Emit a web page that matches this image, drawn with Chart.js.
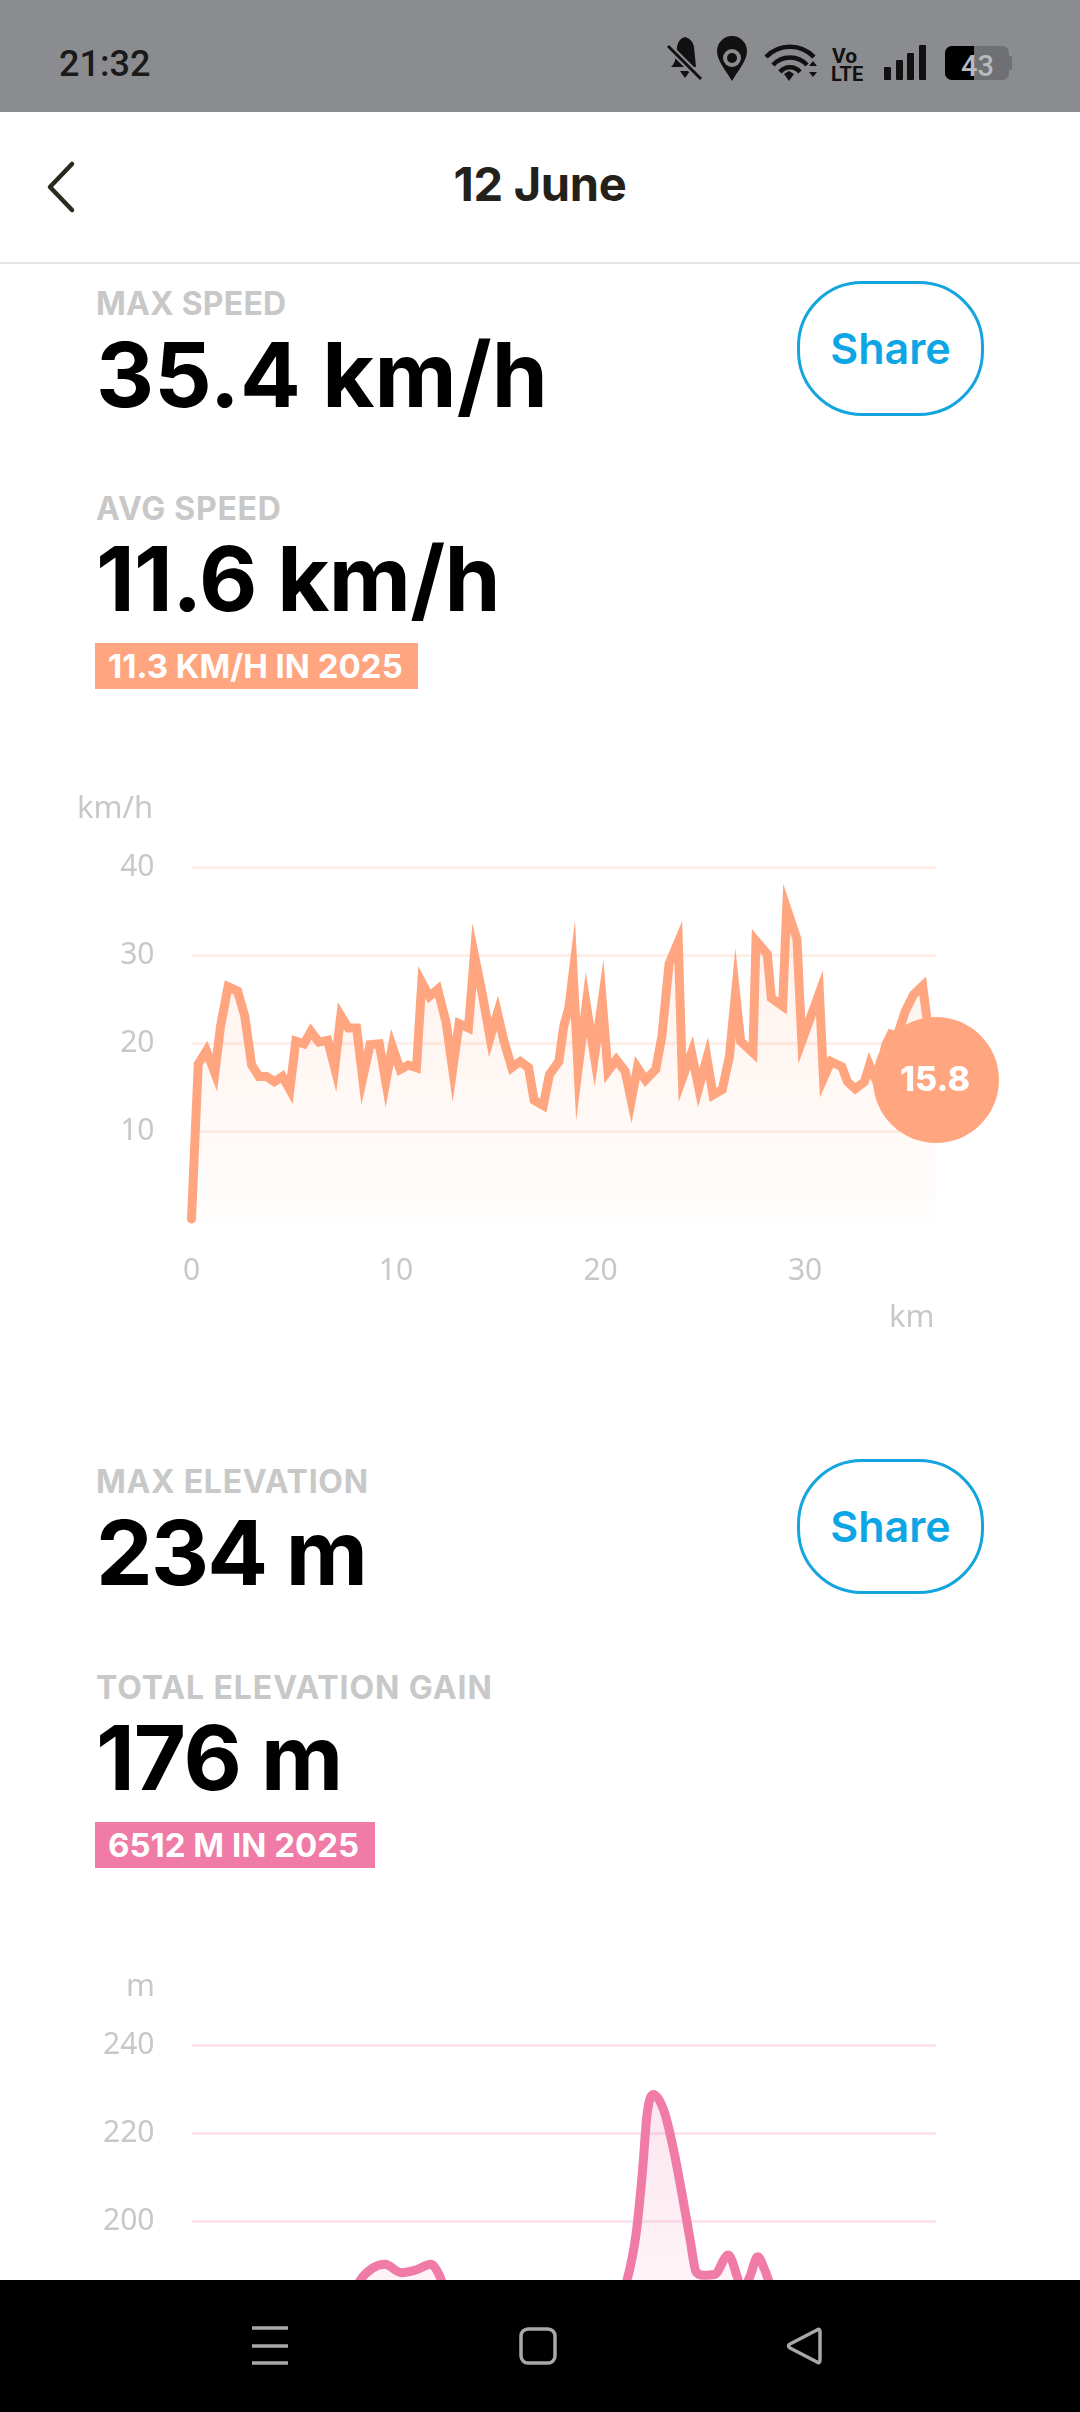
<!DOCTYPE html>
<html lang="en">
<head>
<meta charset="utf-8">
<title>12 June</title>
<script src="https://cdn.jsdelivr.net/npm/chart.js@4/dist/chart.umd.min.js"></script>
<style>
  html, body { margin: 0; padding: 0; background: #fff; }
  body { position: relative; width: 1080px; height: 2412px; overflow: hidden; font-family: Inter, sans-serif; }
  .abs { position: absolute; white-space: nowrap; line-height: 1; }
  .status { position: absolute; left: 0; top: 0; width: 1080px; height: 112px; background: #8b8c90; }
  .divider { position: absolute; left: 0; top: 262px; width: 1080px; height: 2px; background: #e4e4e4; }
  .title { left: 0; width: 1080px; top: 160px; text-align: center; font-size: 47px; font-weight: 700; color: #23211a; letter-spacing: -0.3px; }
  .label { left: 96px; font-size: 32px; font-weight: 700; color: #c8c8c8; }
  .big { left: 96px; font-size: 90px; font-weight: 700; color: #000; }
  .share { position: absolute; left: 797px; width: 181px; height: 129px; border: 3px solid #14a5de; border-radius: 65px; text-align: center; line-height: 129px; font-size: 43px; font-weight: 600; color: #0ea5e4; }
  .badge { position: absolute; left: 95px; height: 46px; line-height: 46px; color: #fff; font-size: 33px; font-weight: 700; padding-left: 13px; box-sizing: border-box; white-space: nowrap; }
  .unit { font-family: "Noto Sans", sans-serif; font-size: 31px; color: #c8c8c8; }
  canvas { position: absolute; left: 0; display: block; }
  .nav { position: absolute; left: 0; top: 2280px; width: 1080px; height: 132px; background: #000; }
</style>
</head>
<body>
  <canvas id="speedChart" width="1080" height="500" style="top:800px"></canvas>
  <canvas id="elevationChart" width="1080" height="510" style="top:1960px"></canvas>

  <div class="status"></div>
  <div class="abs" style="left:59px;top:43px;font:500 36px Roboto,sans-serif;color:#1a1a1a">21:32</div>
  <svg class="abs" style="left:0;top:0" width="1080" height="240" viewBox="0 0 1080 240">
    <!-- bell off -->
    <path d="M671 67c5-4 5-12 6-20 1-6 4-9 8-10 4 1 8 4 9 10l2 20z" fill="#111"/>
    <path d="M680 71h10l-5 7z" fill="#111"/>
    <line x1="668" y1="46" x2="701" y2="79" stroke="#8b8c90" stroke-width="7"/>
    <line x1="668" y1="46" x2="701" y2="79" stroke="#111" stroke-width="3"/>
    <!-- pin -->
    <path d="M732 81c-8-13-15-21-15-30a15 15 0 0 1 30 0c0 9-7 17-15 30z" fill="#111"/>
    <circle cx="732" cy="58" r="9" fill="#8b8c90"/>
    <circle cx="732" cy="58" r="5" fill="#111"/>
    <!-- wifi -->
    <g fill="none" stroke="#111" stroke-width="4.5">
      <path d="M766 57a33 33 0 0 1 48 0"/>
      <path d="M773 65a23 23 0 0 1 34 0"/>
      <path d="M780 72a13 13 0 0 1 20 0"/>
    </g>
    <path d="M784 74l5-3 5 3-5 7z" fill="#111"/>
    <path d="M809 66l4-5 4 5zM809 72h8l-4 5z" fill="#111"/>
    <!-- signal -->
    <rect x="884" y="67" width="7" height="13" rx="1" fill="#111"/>
    <rect x="896" y="60" width="7" height="20" rx="1" fill="#111"/>
    <rect x="907" y="53" width="7" height="27" rx="1" fill="#111"/>
    <rect x="919" y="45" width="7" height="35" rx="1" fill="#111"/>
    <!-- battery -->
    <rect x="945" y="46" width="64" height="34" rx="7" fill="#6f7074"/>
    <rect x="1009" y="56" width="3" height="14" rx="1" fill="#6f7074"/>
    <path d="M952 46h22v34h-22a7 7 0 0 1-7-7v-20a7 7 0 0 1 7-7z" fill="#000"/>
    <!-- back -->
    <polyline points="72,164 50,187 72,210" fill="none" stroke="#2a2a1e" stroke-width="4.5" stroke-linecap="round" stroke-linejoin="round"/>
  </svg>
  <div class="abs" style="left:961px;top:49px;font:500 29px Roboto,sans-serif;color:#b9babd">43</div>
  <div class="abs" style="left:832px;top:44px;font:700 21px Roboto,sans-serif;color:#111">Vo</div>
  <div class="abs" style="left:831px;top:62px;font:700 20px Roboto,sans-serif;color:#111">LTE</div>

  <div class="abs title">12 June</div>
  <div class="divider"></div>

  <div class="abs label" style="top:288px;letter-spacing:0.2px">MAX SPEED</div>
  <div class="abs big" style="top:330px;letter-spacing:0.1px">35.4 km/h</div>
  <div class="share" style="top:281px">Share</div>
  <div class="abs label" style="top:493px;letter-spacing:0.7px">AVG SPEED</div>
  <div class="abs big" style="top:534px;letter-spacing:-0.7px">11.6 km/h</div>
  <div class="badge" style="top:643px;width:323px;background:#ffa580">11.3 KM/H IN 2025</div>
  <div class="abs unit" style="left:77px;top:791px">km/h</div>
  <div class="abs unit" style="left:889px;top:1300px">km</div>

  <div class="abs label" style="top:1466px;letter-spacing:0.7px">MAX ELEVATION</div>
  <div class="abs big" style="top:1508px;letter-spacing:-1.8px">234 m</div>
  <div class="share" style="top:1459px">Share</div>
  <div class="abs label" style="top:1672px;letter-spacing:0.9px">TOTAL ELEVATION GAIN</div>
  <div class="abs big" style="top:1713px;letter-spacing:-1.1px">176 m</div>
  <div class="badge" style="top:1822px;width:280px;background:#ef7ba6">6512 M IN 2025</div>
  <div class="abs unit" style="left:126px;top:1969px">m</div>

  <div class="nav">
    <svg width="1080" height="132" viewBox="0 0 1080 132">
      <g fill="none" stroke="#a8a8a8" stroke-width="3.5">
        <path d="M252 48h36M252 66h36M252 83h36"/>
        <rect x="521" y="49" width="34" height="34" rx="7"/>
        <path d="M820 52v28q0 4-3 2l-27-14q-3-2 0-4l27-14q3-2 3 2z" stroke-linejoin="round"/>
      </g>
    </svg>
  </div>

<script>
// 속도 / 고도 그래프
const speedKm = [0, 0.33, 0.73, 1.14, 1.42, 1.79, 2.25, 2.6, 2.94, 3.3, 3.67, 4.05, 4.45, 4.81, 5.1, 5.5, 5.84, 6.23, 6.66, 7.0,
  7.3, 7.67, 8.07, 8.37, 8.73, 9.18, 9.5, 9.82, 10.2, 10.6, 11.0, 11.26, 11.63, 12.04, 12.45, 12.77, 13.08, 13.54, 13.83, 14.24,
  14.6, 14.96, 15.28, 15.66, 16.07, 16.48, 16.75, 17.2, 17.5, 17.96, 18.2, 18.45, 18.66, 18.9, 19.3, 19.7, 20.08, 20.36, 20.77, 21.2,
  21.5, 21.8, 22.2, 22.7, 23.0, 23.35, 23.8, 24.0, 24.45, 24.8, 25.2, 25.5, 25.95, 26.3, 26.6, 26.85, 27.45, 27.6, 28.15, 28.35,
  28.9, 29.1, 29.6, 29.84, 30.7, 30.9, 31.26, 31.8, 32.07, 32.45, 32.9, 33.15, 33.5, 33.95, 34.2, 34.5, 34.9, 35.3, 35.75, 36.0, 36.4];
const speedValues = [0, 17.6, 19.1, 16.6, 21.9, 26.4, 25.9, 23.1, 17.5, 16.2, 16.2, 15.6, 16.2, 14.7, 20.2, 19.9, 21.3, 20.1, 20.3, 17.2,
  23.1, 21.7, 21.7, 16.0, 19.8, 19.9, 15.6, 19.6, 17.0, 17.5, 17.2, 26.9, 25.3, 26.1, 22.3, 17.0, 22.2, 21.7, 30.0, 25.3,
  20.6, 23.4, 20.2, 17.2, 17.9, 17.2, 13.5, 12.9, 16.4, 17.9, 21.9, 24.0, 28.0, 17.0, 24.4, 18.5, 24.8, 16.8, 18.1, 16.8,
  13.5, 17.2, 15.8, 17.0, 20.8, 29.0, 31.5, 16.0, 18.9, 14.9, 18.3, 14.1, 14.7, 18.5, 25.7, 20.2, 18.9, 31.6, 30.1, 25.1,
  24.2, 35.3, 31.8, 20.2, 25.7, 16.0, 17.9, 17.3, 15.6, 14.8, 15.6, 17.5, 15.6, 19.8, 21.0, 20.8, 23.6, 25.5, 26.5, 21.9, 15.8];
const speedXTicks = [0, 10, 20, 30];
const speedYTicks = [10, 20, 30, 40];

const elevationKm = [0, 2, 4, 6, 7.5, 8.25, 8.84, 9.45, 10.26, 10.95, 11.7, 12.08, 12.39, 13, 15, 17, 19, 20.5,
  21.29, 21.74, 22.04, 22.28, 22.58, 23.09, 23.54, 23.98, 24.38, 24.67, 25.04, 25.58, 26.24, 26.68, 26.9, 27.3, 27.68, 28.03, 28.33, 29, 31, 33, 35, 36.4];
const elevationValues = [175, 176, 178, 177, 180, 186.7, 189.4, 190.3, 188.4, 189, 190.3, 188.2, 184.5, 180, 176, 175, 176, 179,
  186.7, 197.3, 210.9, 224.5, 228.8, 225.2, 216.9, 206.3, 195.8, 188.6, 187.8, 188, 192.4, 187.5, 184, 187.5, 192, 189, 185.2, 180, 177, 176, 175, 175];
const elevationXTicks = [0, 10, 20, 30];
const elevationYTicks = [180, 200, 220, 240];

const speedLabel = '15.8';

function toPoints(xs, ys) {
  return xs.map((x, i) => ({ x, y: ys[i] }));
}

function makeFill(rgb, topAlpha, bottomAlpha) {
  return (ctx) => {
    const area = ctx.chart.chartArea;
    if (!area) return 'transparent';
    const g = ctx.chart.ctx.createLinearGradient(0, area.top, 0, area.bottom);
    g.addColorStop(0, `rgba(${rgb}, ${topAlpha})`);
    g.addColorStop(1, `rgba(${rgb}, ${bottomAlpha})`);
    return g;
  };
}

function axes(xTicks, yTicks, yMin, yMax, gridColor) {
  const tickFont = { family: '"Noto Sans", sans-serif', size: 30 };
  return {
    x: {
      type: 'linear', min: 0, max: 36.4,
      afterBuildTicks: (s) => { s.ticks = xTicks.map(value => ({ value })); },
      afterFit: (s) => { s.height = 70; },
      grid: { display: false },
      border: { display: false },
      ticks: { color: '#c8c8c8', font: tickFont, padding: 26, maxRotation: 0, autoSkip: false }
    },
    y: {
      min: yMin, max: yMax,
      afterBuildTicks: (s) => { s.ticks = yTicks.map(value => ({ value })); },
      afterFit: (s) => { s.width = 191.5; },
      grid: { color: gridColor, lineWidth: 3, drawTicks: false },
      border: { display: false },
      ticks: { color: '#c8c8c8', font: tickFont, padding: 37, autoSkip: false }
    }
  };
}

// 뾰족한 꼭짓점이 잘리지 않도록
const sharpJoins = {
  id: 'sharpJoins',
  beforeDatasetsDraw(chart) { chart.ctx.miterLimit = 30; }
};

// 마지막 점 위에 값 표시
const bubbleLabel = {
  id: 'bubbleLabel',
  afterDatasetsDraw(chart) {
    const pts = chart.getDatasetMeta(0).data;
    const last = pts[pts.length - 1];
    const c = chart.ctx;
    c.save();
    c.fillStyle = '#fff';
    c.font = '800 34px Inter, sans-serif';
    c.textAlign = 'center';
    c.textBaseline = 'middle';
    c.fillText(speedLabel, last.x - 1, last.y + 1);
    c.restore();
  }
};

Chart.defaults.animation = false;
Chart.defaults.responsive = false;

new Chart(document.getElementById('speedChart'), {
  type: 'line',
  data: {
    datasets: [{
      data: toPoints(speedKm, speedValues),
      borderColor: '#ffa580',
      borderWidth: 9,
      borderCapStyle: 'round',
      borderJoinStyle: 'miter',
      tension: 0,
      fill: 'origin',
      backgroundColor: makeFill('255, 165, 128', 0.18, 0.02),
      pointRadius: speedKm.map((_, i) => (i === speedKm.length - 1 ? 63 : 0)),
      pointBackgroundColor: '#ffa580',
      pointBorderWidth: 0,
      clip: false
    }]
  },
  options: {
    devicePixelRatio: 1,
    layout: { padding: { left: 0, right: 144, top: 67, bottom: 11 } },
    plugins: { legend: { display: false }, tooltip: { enabled: false } },
    scales: axes(speedXTicks, speedYTicks, 0, 40, '#ffefe8')
  },
  plugins: [sharpJoins, bubbleLabel]
});

new Chart(document.getElementById('elevationChart'), {
  type: 'line',
  data: {
    datasets: [{
      data: toPoints(elevationKm, elevationValues),
      borderColor: '#ef7ba6',
      borderWidth: 9,
      borderCapStyle: 'round',
      borderJoinStyle: 'round',
      cubicInterpolationMode: 'monotone',
      fill: 'origin',
      backgroundColor: makeFill('239, 123, 166', 0.22, 0.02),
      pointRadius: 0,
      clip: false
    }]
  },
  options: {
    devicePixelRatio: 1,
    layout: { padding: { left: 0, right: 144, top: 85, bottom: 2 } },
    plugins: { legend: { display: false }, tooltip: { enabled: false } },
    scales: axes(elevationXTicks, elevationYTicks, 160, 240, '#fbe4ee')
  }
});
</script>
</body>
</html>
